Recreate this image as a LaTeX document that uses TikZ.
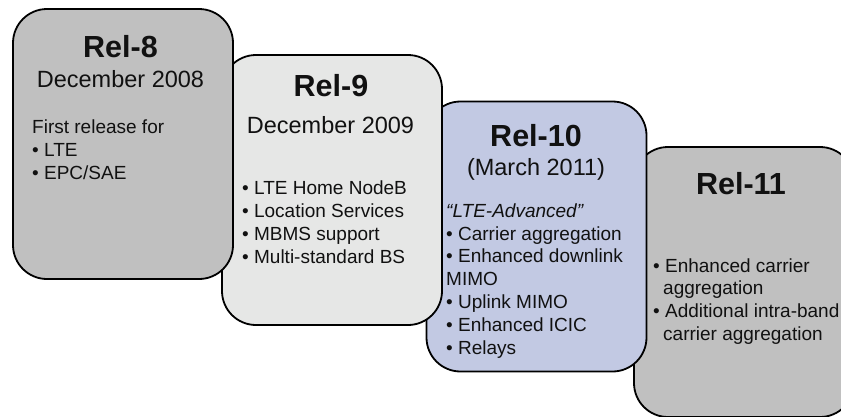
\documentclass[tikz,border=0pt]{standalone}
\usepackage{fontspec}
\setmainfont{Liberation Sans}
\definecolor{grayA}{HTML}{C0C0C0}
\definecolor{grayB}{HTML}{E6E7E6}
\definecolor{blueC}{HTML}{C2C9E3}
\definecolor{txt}{HTML}{111111}
\begin{document}
\begin{tikzpicture}[x=1pt,y=-1pt,
  relbox/.style={draw=black, line width=1.8pt, rounded corners=34pt,
    minimum width=220pt, minimum height=270pt, inner sep=0pt},
  ttl/.style={font=\fontsize{30.5}{36}\selectfont\bfseries, anchor=base, inner sep=0pt, text=txt},
  dt/.style={font=\fontsize{23.5}{28}\selectfont, anchor=base, inner sep=0pt, text=txt},
  ln/.style={font=\fontsize{19}{23}\selectfont, anchor=base west, inner sep=0pt, text=txt}]
\useasboundingbox (0,0) rectangle (841,416);
\clip (0,0) rectangle (841,416);
% boxes, later releases drawn first
\node[relbox, fill=grayA] (r11) at (744,282) {};
\node[relbox, fill=blueC] (r10) at (536.5,236.5) {};
\node[relbox, fill=grayB] (r9) at (332,190) {};
\node[relbox, fill=grayA] (r8) at (123,144) {};
% Rel-8
\node[ttl] (t8) at (120.5,57) {Rel-8};
\node[dt] (d8) at (120.5,87) {December 2008};
\node[ln] (a8) at (32,133) {First release for};
\node[ln] (b8) at (32,156) {• LTE};
\node[ln] (c8) at (32,179) {• EPC/SAE};
% Rel-9
\node[ttl] (t9) at (331,96) {Rel-9};
\node[dt] (d9) at (330.5,133) {December 2009};
\node[ln] (a9) at (242,194) {• LTE Home NodeB};
\node[ln] (b9) at (242,217) {• Location Services};
\node[ln] (c9) at (242,240) {• MBMS support};
\node[ln] (e9) at (242,263) {• Multi-standard BS};
% Rel-10
\node[ttl] (t10) at (536,146) {Rel-10};
\node[dt] (d10) at (536,175) {(March 2011)};
\node[ln, font=\fontsize{19}{23}\selectfont\itshape] (a10) at (446,217) {“LTE-Advanced”};
\node[ln] (b10) at (446,240) {• Carrier aggregation};
\node[ln] (c10) at (446,262.5) {• Enhanced downlink};
\node[ln] (e10) at (446,285) {MIMO};
\node[ln] (f10) at (446,308) {• Uplink MIMO};
\node[ln] (g10) at (446,331) {• Enhanced ICIC};
\node[ln] (h10) at (446,354) {• Relays};
% Rel-11
\node[ttl] (t11) at (741,194) {Rel-11};
\node[ln] (a11) at (653,272) {• Enhanced carrier};
\node[ln] (b11) at (663,294.5) {aggregation};
\node[ln] (c11) at (653,317) {• Additional intra-band};
\node[ln] (e11) at (663,340) {carrier aggregation};
\end{tikzpicture}
\end{document}
